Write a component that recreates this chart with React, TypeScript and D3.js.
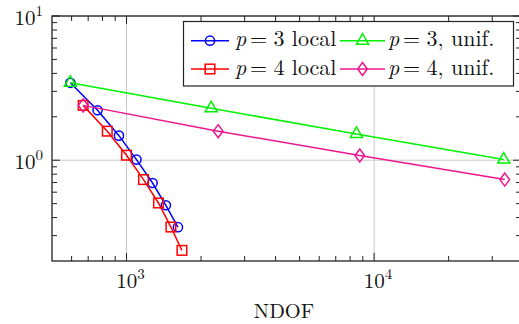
import React from "react";
import * as d3 from "d3";

// Convergence data: error estimate vs. number of degrees of freedom
const p3LocalNdof = [593, 764, 932, 1097, 1274, 1442, 1613];
const p3LocalErr = [3.44, 2.22, 1.48, 1.01, 0.695, 0.487, 0.343];
const p4LocalNdof = [668, 836, 1000, 1171, 1346, 1511, 1674];
const p4LocalErr = [2.4, 1.59, 1.083, 0.734, 0.505, 0.344, 0.237];
const p3UnifNdof = [593, 2198, 8482, 33390];
const p3UnifErr = [3.44, 2.29, 1.52, 1.01];
const p4UnifNdof = [668, 2345, 8750, 33700];
const p4UnifErr = [2.4, 1.59, 1.078, 0.734];

const xTickExps = [3, 4];
const yTickExps = [0, 1];
const xLabel = "NDOF";

type Shape = "circle" | "square" | "triangle" | "diamond";

const seriesList = [
  { deg: "3", kind: " local", color: "#0000ff", shape: "circle" as Shape, xs: p3LocalNdof, ys: p3LocalErr },
  { deg: "3", kind: ", unif.", color: "#00f200", shape: "triangle" as Shape, xs: p3UnifNdof, ys: p3UnifErr },
  { deg: "4", kind: " local", color: "#ff0000", shape: "square" as Shape, xs: p4LocalNdof, ys: p4LocalErr },
  { deg: "4", kind: ", unif.", color: "#ee168c", shape: "diamond" as Shape, xs: p4UnifNdof, ys: p4UnifErr },
];

const W = 519;
const H = 324;
const left = 52;
const right = 521;
const top = 16;
const bottom = 261;

const x = d3.scaleLog().domain([500, 39200]).range([left, right]);
const y = d3.scaleLog().domain([0.2, 10]).range([bottom, top]);

const FONT = "'Latin Modern Roman', 'CMU Serif', 'Liberation Serif', serif";

function minorTicks(domain: number[]): number[] {
  const [lo, hi] = domain;
  const out: number[] = [];
  for (let e = Math.floor(Math.log10(lo)); e <= Math.ceil(Math.log10(hi)); e++) {
    for (let k = 2; k <= 9; k++) {
      const v = k * Math.pow(10, e);
      if (v > lo && v < hi) out.push(v);
    }
  }
  return out;
}

function Marker({ shape, cx, cy, color }: { shape: Shape; cx: number; cy: number; color: string }) {
  const common = { fill: "none", stroke: color, strokeWidth: 1.5 };
  if (shape === "circle") return <circle cx={cx} cy={cy} r={4.6} {...common} />;
  if (shape === "square") return <rect x={cx - 4.8} y={cy - 4.8} width={9.6} height={9.6} {...common} />;
  if (shape === "triangle") {
    const r = 7;
    const pts = [0, 120, 240]
      .map((a) => {
        const t = ((a - 90) * Math.PI) / 180;
        return `${cx + r * Math.cos(t)},${cy + r * Math.sin(t)}`;
      })
      .join(" ");
    return <polygon points={pts} {...common} />;
  }
  return (
    <polygon
      points={`${cx},${cy - 6.5} ${cx + 4.8},${cy} ${cx},${cy + 6.5} ${cx - 4.8},${cy}`}
      {...common}
    />
  );
}

export default function App() {
  const line = d3
    .line<[number, number]>()
    .x((d) => x(d[0]))
    .y((d) => y(d[1]));

  const xMinor = minorTicks(x.domain());
  const yMinor = minorTicks(y.domain());
  const xMajor = xTickExps.map((e) => Math.pow(10, e));
  const yMajor = yTickExps.map((e) => Math.pow(10, e));

  const minorLen = 5;
  const majorLen = 8;
  const axisColor = "#222";

  // legend layout
  const legend = { x0: 183.5, y0: 21.5, x1: 513.5, y1: 86 };
  const colX = [191, 340];
  const textX = [235, 388];
  const rowY = [40.7, 69];
  const lineLen = [38, 45];

  return (
    <svg
      width={W}
      height={H}
      style={{ position: "absolute", left: 0, top: 0, background: "#fff" }}
      fontFamily={FONT}
    >
      <defs>
        <clipPath id="plotArea">
          <rect x={left} y={top} width={right - left} height={bottom - top} />
        </clipPath>
      </defs>
      <rect x={0} y={0} width={W} height={H} fill="#fff" />

      {/* grid at major ticks */}
      {xMajor.map((v) => (
        <line key={`gx${v}`} x1={x(v)} x2={x(v)} y1={top} y2={bottom} stroke="#c8c8c8" strokeWidth={1} />
      ))}
      {yMajor.map((v) => (
        <line key={`gy${v}`} x1={left} x2={right} y1={y(v)} y2={y(v)} stroke="#c8c8c8" strokeWidth={1} />
      ))}

      {/* inward ticks on all four sides */}
      <g stroke={axisColor} strokeWidth={1}>
        {xMinor.map((v) => (
          <g key={`xm${v}`}>
            <line x1={x(v)} x2={x(v)} y1={bottom} y2={bottom - minorLen} />
            <line x1={x(v)} x2={x(v)} y1={top} y2={top + minorLen} />
          </g>
        ))}
        {xMajor.map((v) => (
          <g key={`xM${v}`}>
            <line x1={x(v)} x2={x(v)} y1={bottom} y2={bottom - majorLen} />
            <line x1={x(v)} x2={x(v)} y1={top} y2={top + majorLen} />
          </g>
        ))}
        {yMinor.map((v) => (
          <g key={`ym${v}`}>
            <line x1={left} x2={left + minorLen} y1={y(v)} y2={y(v)} />
            <line x1={right} x2={right - minorLen} y1={y(v)} y2={y(v)} />
          </g>
        ))}
        {yMajor.map((v) => (
          <g key={`yM${v}`}>
            <line x1={left} x2={left + majorLen} y1={y(v)} y2={y(v)} />
            <line x1={right} x2={right - majorLen} y1={y(v)} y2={y(v)} />
          </g>
        ))}
      </g>

      {/* series */}
      <g clipPath="url(#plotArea)">
        {seriesList.map((s, i) => {
          const pts = s.xs.map((v, j) => [v, s.ys[j]] as [number, number]);
          return (
            <g key={`s${i}`}>
              <path d={line(pts) ?? ""} fill="none" stroke={s.color} strokeWidth={1.5} />
              {pts.map((p, j) => (
                <Marker key={j} shape={s.shape} cx={x(p[0])} cy={y(p[1])} color={s.color} />
              ))}
            </g>
          );
        })}
      </g>

      {/* frame */}
      <rect
        x={left}
        y={top}
        width={right - left}
        height={bottom - top}
        fill="none"
        stroke={axisColor}
        strokeWidth={1.3}
      />

      {/* tick labels */}
      {xTickExps.map((e) => (
        <text key={`xl${e}`} x={x(Math.pow(10, e)) + 4} y={288} fontSize={21} textAnchor="middle" fill="#111">
          10
          <tspan fontSize={15} dy={-9}>
            {e}
          </tspan>
        </text>
      ))}
      {yTickExps.map((e) => (
        <text key={`yl${e}`} x={43} y={y(Math.pow(10, e)) + 9} fontSize={21} textAnchor="end" fill="#111">
          10
          <tspan fontSize={15} dy={-9}>
            {e}
          </tspan>
        </text>
      ))}

      {/* axis label */}
      <text x={284} y={318} fontSize={20.5} textAnchor="middle" fill="#111">
        {xLabel}
      </text>

      {/* legend */}
      <rect
        x={legend.x0}
        y={legend.y0}
        width={legend.x1 - legend.x0}
        height={legend.y1 - legend.y0}
        fill="#fff"
        stroke={axisColor}
        strokeWidth={1.2}
      />
      {seriesList.map((s, i) => {
        const col = i % 2;
        const row = Math.floor(i / 2);
        const lx = colX[col];
        const ly = rowY[row];
        const len = lineLen[col];
        const tx = textX[col];
        return (
          <g key={`lg${i}`}>
            <line x1={lx} x2={lx + len} y1={ly} y2={ly} stroke={s.color} strokeWidth={1.5} />
            <Marker shape={s.shape} cx={lx + len / 2} cy={ly} color={s.color} />
            <text y={ly + 5.5} fontSize={22} fill="#111">
              <tspan x={tx} fontStyle="italic">p</tspan>
              <tspan x={tx + 15}>=</tspan>
              <tspan x={tx + 38.5}>{s.deg}</tspan>
              <tspan>{s.kind}</tspan>
            </text>
          </g>
        );
      })}
    </svg>
  );
}
